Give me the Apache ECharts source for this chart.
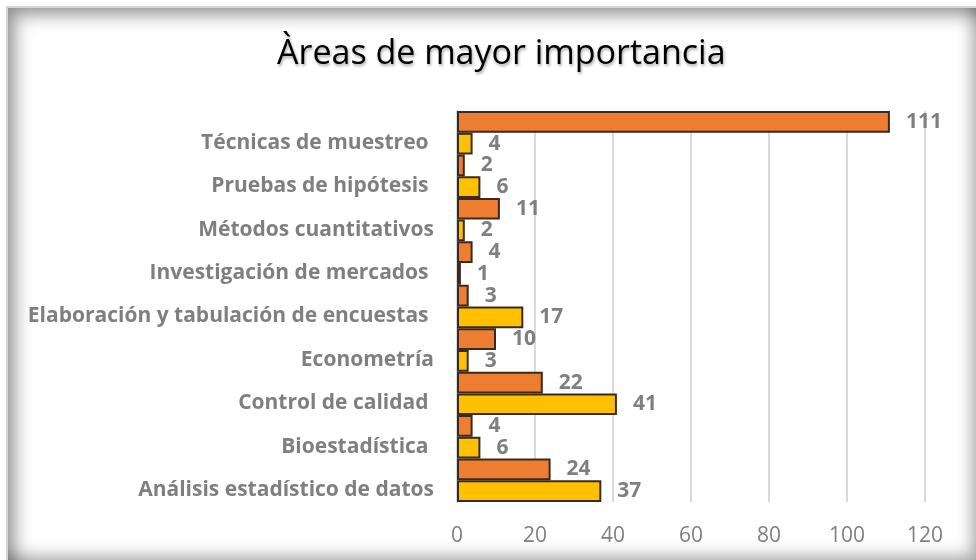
<!DOCTYPE html>
<html>
<head>
<meta charset="utf-8">
<script src="https://cdn.jsdelivr.net/npm/echarts@6/dist/echarts.min.js"></script>
<style>
  html, body { margin: 0; padding: 0; background: #ffffff; }
  #frame {
    position: absolute; left: 6px; top: 6px; width: 970px; height: 554px;
    box-sizing: border-box;
    border-top: 2px solid #d4d4d4; border-left: 2px solid #d4d4d4;
    box-shadow: inset 12px 12px 18px -6px rgba(0,0,0,0.45), inset -10px -10px 16px -6px rgba(0,0,0,0.35);
    z-index: 0;
  }
  #chart { position: absolute; left: 0; top: 0; width: 976px; height: 560px; z-index: 1; }
</style>
</head>
<body>
<div id="frame"></div>
<div id="chart"></div>
<script>
const titleText = 'Àreas de mayor importancia';
const categories = [
  'Análisis estadístico de datos',
  'Bioestadística ',
  'Control de calidad ',
  'Econometría',
  'Elaboración y tabulación de encuestas ',
  'Investigación de mercados ',
  'Métodos cuantitativos',
  'Pruebas de hipótesis ',
  'Técnicas de muestreo '
];
const seriesOrange = [24, 4, 22, 10, 3, 4, 11, 2, 111];
const seriesYellow = [37, 6, 41, 3, 17, 1, 2, 6, 4];
const xTicks = [0, 20, 40, 60, 80, 100, 120];

const FONT = '"Open Sans"';
const GRAY = '#7f7f7f';
const chart = echarts.init(document.getElementById('chart'), null, { renderer: 'canvas' });

const labelStyle = {
  show: true,
  position: 'right',
  distance: 16,
  color: GRAY,
  fontFamily: FONT,
  fontWeight: 'bold',
  fontSize: 21
};

chart.setOption({
  backgroundColor: 'transparent',
  animation: false,
  title: {
    text: titleText,
    left: 272,
    top: 32,
    textStyle: {
      fontFamily: FONT,
      fontWeight: 'normal',
      fontSize: 34,
      color: '#000000',
      textShadowColor: 'rgba(0,0,0,0.35)',
      textShadowBlur: 3,
      textShadowOffsetX: 1,
      textShadowOffsetY: 2
    }
  },
  grid: { left: 457, right: 51, top: 111, bottom: 58, containLabel: false },
  xAxis: {
    type: 'value',
    min: xTicks[0],
    max: xTicks[xTicks.length - 1],
    interval: xTicks[1] - xTicks[0],
    axisLine: { show: false },
    axisTick: { show: false },
    axisLabel: { color: GRAY, fontFamily: FONT, fontSize: 21, margin: 24 },
    splitLine: { show: true, lineStyle: { color: '#d9d9d9', width: 2 } }
  },
  yAxis: {
    type: 'category',
    data: categories,
    axisLine: { show: true, lineStyle: { color: '#d9d9d9', width: 2 } },
    axisTick: { show: false },
    axisLabel: {
      color: GRAY,
      fontFamily: FONT,
      fontWeight: 'bold',
      fontSize: 21,
      margin: 23,
      verticalAlign: 'top',
      lineHeight: 20
    }
  },
  series: [
    {
      name: 'A',
      type: 'bar',
      data: seriesOrange,
      barGap: '0%',
      barCategoryGap: '0%',
      itemStyle: { color: '#ED7D31', borderColor: '#3a2a1e', borderWidth: 2 },
      label: labelStyle
    },
    {
      name: 'B',
      type: 'bar',
      data: seriesYellow,
      barGap: '0%',
      barCategoryGap: '0%',
      itemStyle: { color: '#FFC000', borderColor: '#3a2a1e', borderWidth: 2 },
      label: labelStyle
    }
  ]
});
</script>
</body>
</html>
